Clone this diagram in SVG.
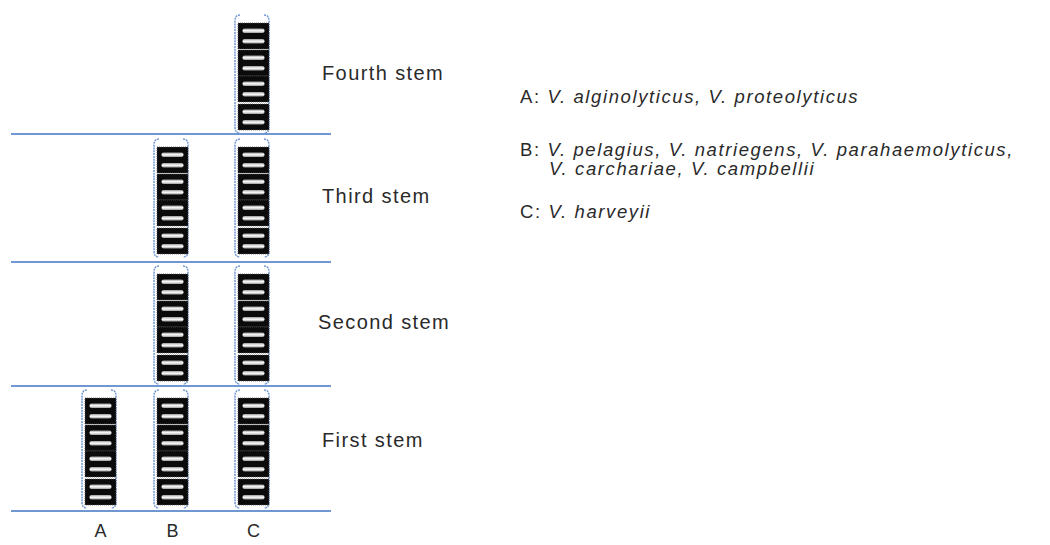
<svg xmlns="http://www.w3.org/2000/svg" xmlns:xlink="http://www.w3.org/1999/xlink" width="1050" height="545" viewBox="0 0 1050 545">
  <style>
    .sep { stroke: #6f97d2; stroke-width: 2; fill: none; }
    .brk { stroke: #7199d2; stroke-width: 1.5; fill: none; stroke-dasharray: 2 0.8; }
    .box { fill: #0b0b0b; stroke: #555; stroke-width: 0.8; stroke-dasharray: 1 1; }
    .bar { fill: url(#barGrad); }
    .stem { font-family: "Liberation Sans", Arial, sans-serif; font-size: 20px; letter-spacing: 1.4px; fill: #2a2a2a; }
    .col { font-family: "Liberation Sans", Arial, sans-serif; font-size: 18px; fill: #2a2a2a; }
    .leg { font-family: "Liberation Sans", Arial, sans-serif; font-size: 18.5px; letter-spacing: 1.6px; fill: #2a2a2a; }
    .it { font-style: italic; }
  </style>
  <defs>
    <linearGradient id="barGrad" x1="0" y1="0" x2="0" y2="1">
      <stop offset="0" stop-color="#9a9a9a"/>
      <stop offset="0.5" stop-color="#ffffff"/>
      <stop offset="1" stop-color="#9a9a9a"/>
    </linearGradient>
    <!-- one rRNA operon block: black body with two light bars -->
    <g id="block">
      <rect class="box" x="0" y="0" width="31" height="26"/>
      <rect class="bar" x="4.5" y="5.5" width="22" height="4.5" rx="2"/>
      <rect class="bar" x="4.5" y="16" width="22" height="4.5" rx="2"/>
    </g>
    <!-- bracketed stack of four blocks -->
    <g id="stack">
      <path class="brk" d="M6,0 Q1,0 1,6 L1,112 Q1,118 6,118"/>
      <path class="brk" d="M30,0 Q35,0 35,6 L35,112 Q35,118 30,118"/>
      <use xlink:href="#block" x="4" y="8"/>
      <use xlink:href="#block" x="4" y="35"/>
      <use xlink:href="#block" x="4" y="61"/>
      <use xlink:href="#block" x="4" y="89"/>
    </g>
  </defs>

  <g id="separators">
    <line class="sep" x1="11" y1="134" x2="331" y2="134"/>
    <line class="sep" x1="11" y1="262" x2="331" y2="262"/>
    <line class="sep" x1="11" y1="386" x2="331" y2="386"/>
    <line class="sep" x1="11" y1="511" x2="331" y2="511"/>
  </g>

  <g id="stem4">
    <use id="stem4-C" xlink:href="#stack" x="234" y="15"/>
    <text class="stem" x="322" y="80">Fourth stem</text>
  </g>
  <g id="stem3">
    <use id="stem3-B" xlink:href="#stack" x="153" y="139"/>
    <use id="stem3-C" xlink:href="#stack" x="234" y="139"/>
    <text class="stem" x="322" y="203">Third stem</text>
  </g>
  <g id="stem2">
    <use id="stem2-B" xlink:href="#stack" x="153" y="266"/>
    <use id="stem2-C" xlink:href="#stack" x="234" y="266"/>
    <text class="stem" x="318" y="329">Second stem</text>
  </g>
  <g id="stem1">
    <use id="stem1-A" xlink:href="#stack" x="81" y="390"/>
    <use id="stem1-B" xlink:href="#stack" x="153" y="390"/>
    <use id="stem1-C" xlink:href="#stack" x="234" y="390"/>
    <text class="stem" x="322" y="447">First stem</text>
  </g>

  <g id="columns">
    <text class="col" x="100.5" y="537" text-anchor="middle">A</text>
    <text class="col" x="172.5" y="537" text-anchor="middle">B</text>
    <text class="col" x="253.5" y="537" text-anchor="middle">C</text>
  </g>

  <g id="legend">
    <text class="leg" x="520" y="103">A: <tspan class="it">V. alginolyticus, V. proteolyticus</tspan></text>
    <text class="leg" x="520" y="156">B: <tspan class="it">V. pelagius, V. natriegens, V. parahaemolyticus,</tspan></text>
    <text class="leg it" x="549" y="175">V. carchariae, V. campbellii</text>
    <text class="leg" x="520" y="218">C: <tspan class="it">V. harveyii</tspan></text>
  </g>
</svg>
